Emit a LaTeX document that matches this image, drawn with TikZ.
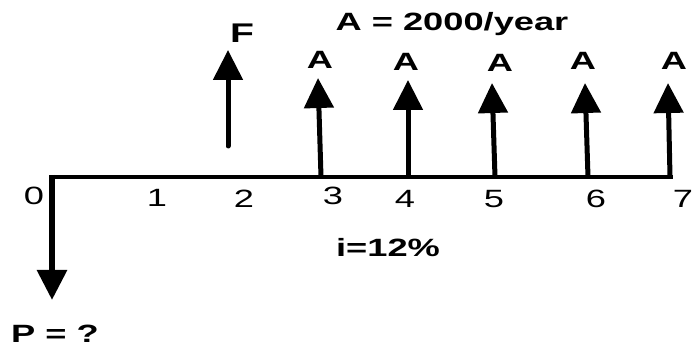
\documentclass[tikz,border=0pt]{standalone}
\usepackage{fontspec}
\newfontfamily\widefont{Liberation Sans}[FakeStretch=1.45]
\usetikzlibrary{arrows.meta}
\begin{document}
\begin{tikzpicture}[x=1pt,y=-1pt,
  lbl/.style={font=\widefont\fontsize{25}{25}\selectfont\bfseries, inner sep=0pt, anchor=base},
  num/.style={font=\widefont\fontsize{25}{25}\selectfont, inner sep=0pt, anchor=base},
  axisline/.style={line width=4pt},
  flow/.style={line width=5pt, -{Triangle[length=30pt,width=29pt]}}]
\useasboundingbox (0,0) rectangle (694,347);
% axis points
\coordinate (t0) at (52,177);
\coordinate (t2) at (228,146);
\coordinate (t3) at (321,177);
\coordinate (t4) at (408,177);
\coordinate (t5) at (495,177);
\coordinate (t6) at (588,177);
\coordinate (t7) at (670,177);
\coordinate (tend) at (673,177);
\coordinate (ptop) at (52,175);
% tips
\coordinate (pdown) at (52,300);
\coordinate (fup) at (228,50);
\coordinate (a3) at (318,78);
\coordinate (a4) at (408,80);
\coordinate (a5) at (492,83);
\coordinate (a6) at (585,83);
\coordinate (a7) at (668,83);
% axis
\draw[axisline, line cap=butt] (t0) ++(-2,0) -- (tend);
\draw[flow, line width=6pt] (ptop) -- (pdown);
\draw[flow, line cap=round] (t2) -- (fup);
\draw[flow] (t3) -- (a3);
\draw[flow] (t4) -- (a4);
\draw[flow] (t5) -- (a5);
\draw[flow] (t6) -- (a6);
\draw[flow] (t7) -- (a7);
% labels
\node[lbl] (title) at (452,31) {A = 2000/year};
\node[lbl, font=\widefont\fontsize{27}{27}\selectfont\bfseries] (lF) at (242,43) {F};
\node[lbl] (lA3) at (320,69) {A};
\node[lbl] (lA4) at (406,71) {A};
\node[lbl] (lA5) at (500,72) {A};
\node[lbl] (lA6) at (583,70) {A};
\node[lbl] (lA7) at (674,70) {A};
\node[num] (n0) at (34,205) {0};
\node[num] (n1) at (157,207) {1};
\node[num] (n2) at (244,208) {2};
\node[num] (n3) at (333,205) {3};
\node[num] (n4) at (405,208) {4};
\node[num] (n5) at (494,208) {5};
\node[num] (n6) at (596,208) {6};
\node[num] (n7) at (683,208) {7};
\node[lbl] (rate) at (388,257) {i=12\%};
\node[lbl] (P) at (55,343) {P = ?};
\end{tikzpicture}
\end{document}
